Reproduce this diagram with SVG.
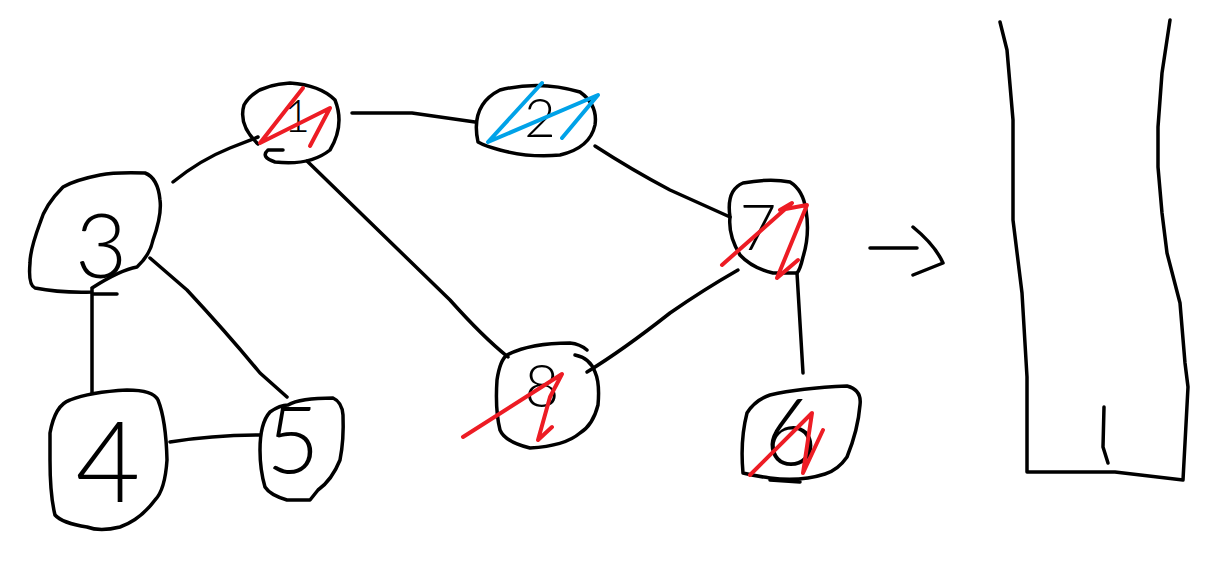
<svg xmlns="http://www.w3.org/2000/svg" width="1228" height="561" viewBox="0 0 1228 561">
<style>
.ink{fill:none;stroke:#000;stroke-width:3.5;stroke-linecap:round;stroke-linejoin:round}
.red{fill:none;stroke:#ED1C24;stroke-width:4;stroke-linecap:round;stroke-linejoin:round}
.blue{fill:none;stroke:#00A2E8;stroke-width:4;stroke-linecap:round;stroke-linejoin:round}
.num{font-family:Lato,"Liberation Sans",Arial,sans-serif;font-weight:300;fill:#000;text-anchor:middle}
</style>
<rect width="1228" height="561" fill="#fff"/>
<g id="connectors">
<path class="ink" d="M352,113 L412,113 L475,122"/>
<path class="ink" d="M173,182 Q200,160 230,148 L258,137"/>
<path class="ink" d="M307,161 L450,300 Q483,337 508,357"/>
<path class="ink" d="M92,293 L92,393 M92,294 L117,294"/>
<path class="ink" d="M150,258 L187,290 Q227,333 260,373 L287,397"/>
<path class="ink" d="M170,442 Q213,435 260,435"/>
<path class="ink" d="M587,372 Q623,350 670,313 Q703,290 738,270"/>
<path class="ink" d="M595,146 Q632,170 670,190 L730,217"/>
<path class="ink" d="M797,273 Q800,320 803,373"/>
<path class="ink" d="M870,248 L917,248 M913,227 Q935,245 943,263 L913,275"/>
</g>
<g id="node-1">
<path class="ink" d="M268,150 L283,150 M268,150 Q260,157 275,162 Q310,166 330,150 Q345,125 335,100 Q320,85 290,83 Q255,85 244,105 Q238,125 258,144"/>
<text class="num" x="297" y="132" font-size="45">1</text>
<path class="red" d="M303,88 L260,143 L330,108 L310,146"/>
</g>
<g id="node-2">
<path class="ink" d="M478,142 Q470,105 500,90 Q540,80 580,92 Q598,105 595,125 Q590,148 560,155 Q530,158 500,150 Q485,146 478,142 Z"/>
<text class="num" x="540" y="137" font-size="54">2</text>
<path class="blue" d="M542,83 L488,142 L598,95 L562,138"/>
</g>
<g id="node-3">
<path class="ink" d="M92,288 Q120,270 137,267 Q150,255 153,240 Q162,215 160,200 Q158,178 145,173 Q115,172 100,175 Q75,180 63,187 Q45,205 40,223 Q30,250 30,263 Q28,285 35,288 Q60,293 92,292 L92,288"/>
<text class="num" x="101" y="278" font-size="90">3</text>
</g>
<g id="node-4">
<path class="ink" d="M50,433 Q55,405 70,400 Q90,392 127,390 Q153,390 158,400 Q166,420 167,460 Q165,490 155,500 Q140,520 120,527 Q100,532 87,527 Q62,523 55,515 Q50,495 50,460 Z"/>
<text class="num" x="108" y="502" font-size="112">4</text>
</g>
<g id="node-5">
<path class="ink" d="M288,405 Q300,398 333,398 Q342,402 343,415 Q344,440 340,460 Q332,480 318,490 L310,500 L287,500 Q270,495 265,487 Q260,470 260,450 Q260,423 270,412 Q280,405 288,405 Z"/>
<text class="num" x="293" y="473" font-size="92">5</text>
</g>
<g id="node-8">
<path class="ink" d="M507,355 Q530,343 570,343 Q580,344 587,350 M575,355 Q590,358 595,372 Q600,383 598,405 Q593,425 580,433 Q565,446 530,448 Q505,442 500,430 Q495,410 497,380 Q500,360 507,355"/>
<text class="num" x="542" y="407" font-size="60">8</text>
<path class="red" d="M463,437 L562,374 L550,397 L538,440 L552,427"/>
</g>
<g id="node-7">
<path class="ink" d="M730,217 Q726,190 743,183 Q770,178 790,182 Q803,190 806,210 Q810,235 803,257 Q800,270 797,273 L773,273 Q752,268 740,255 Q728,235 730,217 Z"/>
<text class="num" x="758" y="250" font-size="64">7</text>
<path class="red" d="M722,265 L792,203 L780,210 L807,205 L777,278 L798,260"/>
</g>
<g id="node-6">
<path class="ink" d="M743,473 Q740,440 747,413 Q755,400 770,395 Q800,388 847,386 Q862,390 860,405 Q858,430 847,457 Q838,470 825,474 Q800,482 770,478 Q755,476 743,473 Z M770,480 L800,482"/>
<text class="num" x="791" y="465" font-size="92">6</text>
<path class="red" d="M750,475 L812,413 L803,473 L823,430"/>
</g>
<g id="container">
<path class="ink" d="M1000,22 L1007,50 L1013,120 L1013,220 L1022,293 L1027,377 L1027,472 L1115,472 L1183,480 L1185,443 L1188,387 L1185,363 L1180,303 L1167,253 L1162,213 L1158,167 L1158,127 L1162,73 L1170,20"/>
<path class="ink" d="M1104,407 L1103,447 L1108,463"/>
</g>
</svg>
